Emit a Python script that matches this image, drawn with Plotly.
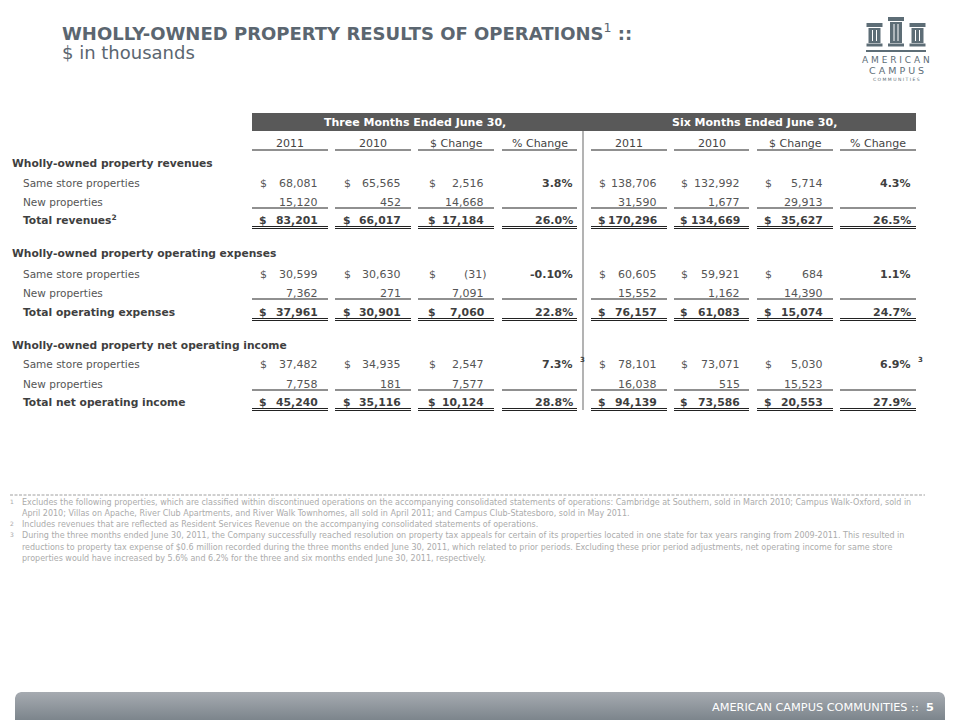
import plotly.graph_objects as go

# ── Data ──────────────────────────────────────────────────────
PERIODS = ["Three Months Ended June 30,", "Six Months Ended June 30,"]
COL_HEADS = ["2011", "2010", "$ Change", "% Change"]

SECTIONS = [
    "Wholly-owned property revenues",
    "Wholly-owned property operating expenses",
    "Wholly-owned property net operating income",
]
ROW_LABELS = [
    "Same store properties", "New properties", "Total revenues<sup>2</sup>",
    "Same store properties", "New properties", "Total operating expenses",
    "Same store properties", "New properties", "Total net operating income",
]
ROW_KIND = ["same", "new", "total"] * 3

three_2011 = [68081, 15120, 83201, 30599, 7362, 37961, 37482, 7758, 45240]
three_2010 = [65565, 452, 66017, 30630, 271, 30901, 34935, 181, 35116]
three_chg = [2516, 14668, 17184, -31, 7091, 7060, 2547, 7577, 10124]
three_pct = ["3.8%", "", "26.0%", "-0.10%", "", "22.8%", "7.3%", "", "28.8%"]
six_2011 = [138706, 31590, 170296, 60605, 15552, 76157, 78101, 16038, 94139]
six_2010 = [132992, 1677, 134669, 59921, 1162, 61083, 73071, 515, 73586]
six_chg = [5714, 29913, 35627, 684, 14390, 15074, 5030, 15523, 20553]
six_pct = ["4.3%", "", "26.5%", "1.1%", "", "24.7%", "6.9%", "", "27.9%"]
PCT_NOTE = ["", "", "", "", "", "", "3", "", ""]

FOOTNOTES = [
    ("1", "Excludes the following properties, which are classified within discontinued operations on the accompanying consolidated statements of operations: Cambridge at Southern, sold in March 2010; Campus Walk-Oxford, sold in"),
    ("", "April 2010; Villas on Apache, River Club Apartments, and River Walk Townhomes, all sold in April 2011; and Campus Club-Statesboro, sold in May 2011."),
    ("2", "Includes revenues that are reflected as Resident Services Revenue on the accompanying consolidated statements of operations."),
    ("3", "During the three months ended June 30, 2011, the Company successfully reached resolution on property tax appeals for certain of its properties located in one state for tax years ranging from 2009-2011. This resulted in"),
    ("", "reductions to property tax expense of $0.6 million recorded during the three months ended June 30, 2011, which related to prior periods. Excluding these prior period adjustments, net operating income for same store"),
    ("", "properties would have increased by 5.6% and 6.2% for the three and six months ended June 30, 2011, respectively."),
]

# ── Layout constants ─────────────────────────────────────────
FONT = "DejaVu Sans"
C_TITLE = "#5b6670"
C_TEXT = "#555555"
C_BOLD = "#3f3f3f"
C_LINE = "#222222"

SECTION_Y = [163, 253, 345]
ROW_Y = [183, 202, 220, 274, 293, 312, 364, 384, 402]
# (dollar x, right x, underline x0, underline x1)
COLS = [
    (263, 320, 252, 328), (347, 403, 335, 411), (432, 486, 418, 494), (None, 575, 502, 577),
    (602, 659, 591, 667), (684, 742, 674, 749), (768, 825, 757, 833), (None, 913, 840, 916),
]

fig = go.Figure()
ann = []
shapes = []


def txt(x, y, s, anchor="left", size=10.5, color=C_TEXT, bold=False):
    ann.append(dict(
        x=x, y=y, xref="x", yref="y", text=f"<b>{s}</b>" if bold else s,
        showarrow=False, xanchor=anchor, yanchor="middle",
        font=dict(family=FONT, size=size, color=color),
    ))


def hline(x0, x1, y, color=C_LINE, width=1.2, dash=None):
    shapes.append(dict(type="line", xref="x", yref="y", x0=x0, x1=x1, y0=y, y1=y,
                       line=dict(color=color, width=width, dash=dash)))


# ── Title ────────────────────────────────────────────────────
txt(60, 32, "<b>WHOLLY-OWNED PROPERTY RESULTS OF OPERATIONS</b><sup>1</sup><b> ::</b>",
    size=18, color=C_TITLE)
txt(60, 52, "$ in thousands", size=18, color=C_TITLE)

# ── Header bar ───────────────────────────────────────────────
shapes.append(dict(type="rect", xref="x", yref="y", x0=252, x1=916, y0=113, y1=131,
                   fillcolor="#595959", line=dict(width=0), layer="below"))
txt(415, 122.5, PERIODS[0], anchor="center", size=11, color="white", bold=True)
txt(754, 122.5, PERIODS[1], anchor="center", size=11, color="white", bold=True)
for i, (_, _, u0, u1) in enumerate(COLS):
    txt((u0 + u1) / 2, 143.5, COL_HEADS[i % 4], anchor="center", size=11, color="#444444")
    hline(u0, u1, 150)

# divider
shapes.append(dict(type="line", xref="x", yref="y", x0=583, x1=583, y0=131, y1=410,
                   line=dict(color="#9a9a9a", width=1.5)))

# ── Body ─────────────────────────────────────────────────────
for s, y in zip(SECTIONS, SECTION_Y):
    txt(10, y, s, size=10.7, color=C_BOLD, bold=True)

series = [three_2011, three_2010, three_chg, None, six_2011, six_2010, six_chg, None]
pcts = [three_pct, six_pct]

for r, (label, kind, y) in enumerate(zip(ROW_LABELS, ROW_KIND, ROW_Y)):
    is_total = kind == "total"
    size = 10.8 if is_total else 11
    color = C_BOLD if is_total else C_TEXT
    txt(21, y, label, size=10.7 if is_total else 10.5, color=color, bold=is_total)
    for c, (dx, rx, u0, u1) in enumerate(COLS):
        if series[c] is not None:
            v = series[c][r]
            s = f"{v:,}" if v >= 0 else f"({-v:,})"
            txt(rx + (3 if v < 0 else 0), y, s, anchor="right", size=size, color=color, bold=is_total)
            if kind != "new":
                txt(dx, y, "$", anchor="center", size=size, color=color, bold=is_total)
        else:
            p = pcts[c // 4][r]
            if p:
                txt(rx, y, p, anchor="right", size=11, color=C_BOLD, bold=True)
            if PCT_NOTE[r]:
                txt(rx + 3, y - 4, PCT_NOTE[r], size=7, color=C_BOLD, bold=True)
        if kind == "new":
            hline(u0, u1, y + 6)
        if is_total:
            hline(u0, u1, y + 6.5, width=1)
            hline(u0, u1, y + 8.5, width=1)

# ── Footnotes ────────────────────────────────────────────────
hline(10, 925, 495, color="#a0a0a0", width=1, dash="3px,1.5px")
for i, (mark, line) in enumerate(FOOTNOTES):
    y = 502 + i * 11.3
    if mark:
        txt(8, y - 1, mark, size=6, color="#aaaaaa")
    txt(20, y, line, size=8, color="#ababab")

# ── Logo ─────────────────────────────────────────────────────
LOGO = "#5d6d76"
for cx, top in [(874.5, 23), (896, 17), (917.5, 23)]:
    shapes.append(dict(type="rect", xref="x", yref="y", x0=cx - 8, x1=cx + 8, y0=top, y1=top + 4,
                       fillcolor=LOGO, line=dict(width=0)))
    shapes.append(dict(type="rect", xref="x", yref="y", x0=cx - 6, x1=cx + 6, y0=top + 5, y1=43,
                       fillcolor=LOGO, line=dict(width=0)))
    for fx in (cx - 2, cx + 2):
        shapes.append(dict(type="line", xref="x", yref="y", x0=fx, x1=fx, y0=top + 7, y1=41,
                           line=dict(color="white", width=1)))
    shapes.append(dict(type="rect", xref="x", yref="y", x0=cx - 8, x1=cx + 8, y0=43.5, y1=46.5,
                       fillcolor=LOGO, line=dict(width=0)))
shapes.append(dict(type="rect", xref="x", yref="y", x0=866, x1=926, y0=50, y1=52,
                   fillcolor=LOGO, line=dict(width=0)))
txt(896, 60, "A M E R I C A N", anchor="center", size=9, color=LOGO)
txt(896, 70, "C A M P U S", anchor="center", size=9.5, color=LOGO)
txt(896, 79, "C O M M U N I T I E S", anchor="center", size=4.5, color=LOGO)

# ── Footer bar ───────────────────────────────────────────────
fx = [15, 15, 16, 18, 21, 939, 942, 944, 945, 945, 15]
fy = [720, 698, 695, 693, 692, 692, 693, 695, 698, 720, 720]
fig.add_trace(go.Scatter(
    x=fx, y=fy, mode="lines", fill="toself", line=dict(width=0),
    fillgradient=dict(type="vertical", colorscale=[[0, "#a6abb1"], [1, "#7c858c"]],
                      start=692, stop=720),
    hoverinfo="skip", showlegend=False,
))
txt(936, 707, "AMERICAN CAMPUS COMMUNITIES ::  <b>5</b>", anchor="right", size=11.3, color="white")

fig.update_layout(
    width=960, height=720,
    margin=dict(l=0, r=0, t=0, b=0),
    paper_bgcolor="white", plot_bgcolor="white",
    xaxis=dict(range=[0, 960], visible=False, fixedrange=True),
    yaxis=dict(range=[720, 0], visible=False, fixedrange=True),
    annotations=ann, shapes=shapes, showlegend=False,
)
fig.write_html("out.html", post_script="document.body.style.margin='0';",
               config={"displayModeBar": False})
